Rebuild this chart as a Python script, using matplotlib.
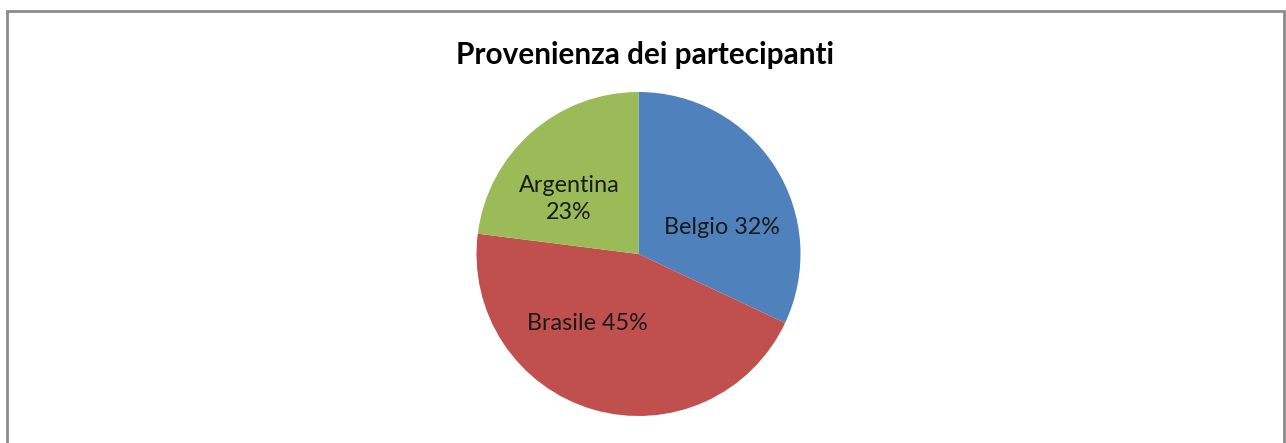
import matplotlib.pyplot as plt
from matplotlib.patches import Rectangle

paesi = ["Belgio", "Brasile", "Argentina"]
percentuali = [32, 45, 23]
colori = ["#4F81BD", "#C0504D", "#9BBB59"]

W, H = 1286, 443
fig = plt.figure(figsize=(W / 100, H / 100), dpi=100)
plt.rcParams['font.family'] = ['Lato', 'DejaVu Sans']

# pie center and radius in pixels
cx, cy, r = 638.5, 254, 162
ax = fig.add_axes([(cx - r) / W, (H - cy - r) / H, 2 * r / W, 2 * r / H])
ax.pie(percentuali, colors=colori, startangle=90, counterclock=False,
       radius=1, wedgeprops=dict(linewidth=0))
ax.set_xlim(-1, 1)
ax.set_ylim(-1, 1)
ax.axis('off')

# label positions (pixels), placed like the original
pos = [(722, 228), (587, 323), (569, 199)]
testi = [f"{paesi[0]} {percentuali[0]}%",
         f"{paesi[1]} {percentuali[1]}%",
         f"{paesi[2]}\n{percentuali[2]}%"]
for (px, py), t in zip(pos, testi):
    fig.text(px / W, 1 - py / H, t, ha='center', va='center',
             fontsize=16.8, color='#1a1a1a', linespacing=1.4)

fig.text(645 / W, 1 - 55 / H, "Provenienza dei partecipanti",
         ha='center', va='center', fontsize=21.4, fontweight='bold')

# outer border (bottom edge is cut off)
fig.patches.append(Rectangle((7 / W, -0.05), (1284 - 7) / W, 1.05 - 11 / H,
                             transform=fig.transFigure, fill=False,
                             edgecolor='#8c8c8c', linewidth=2))

fig.savefig("out.png", dpi=100)
